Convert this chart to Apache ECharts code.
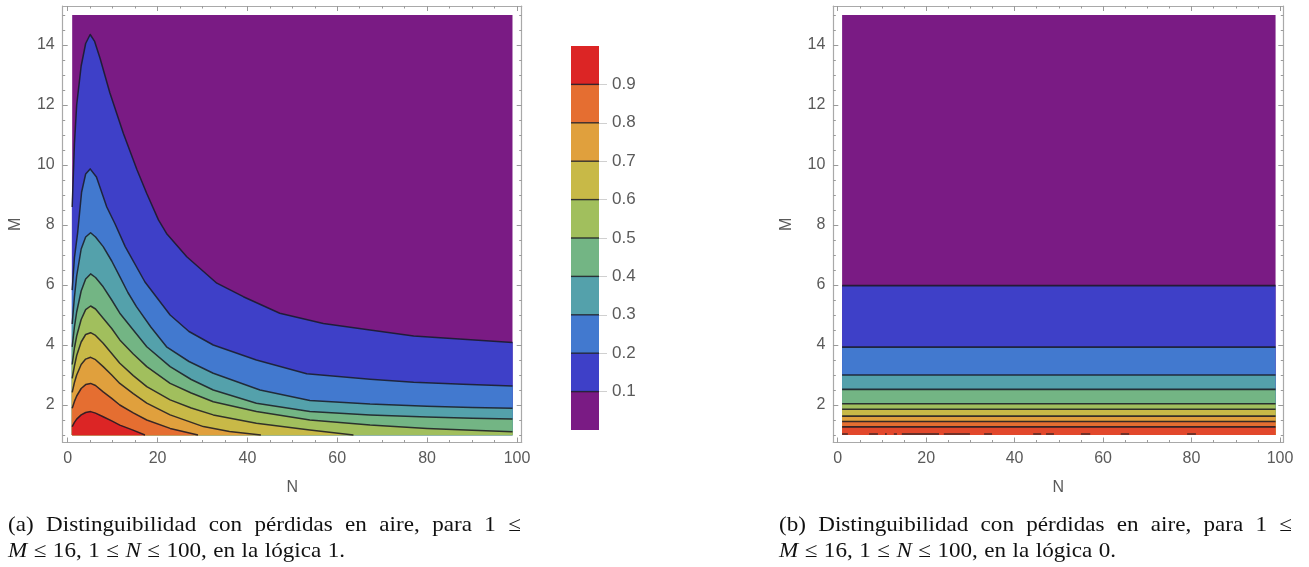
<!DOCTYPE html>
<html>
<head>
<meta charset="utf-8">
<script src="https://cdn.jsdelivr.net/npm/echarts@6/dist/echarts.min.js"></script>
<style>
  html, body { margin: 0; padding: 0; background: #ffffff; }
  #chart { width: 1309px; height: 567px; }
</style>
</head>
<body>
<div id="chart"></div>
<script>
// Contour levels and their band colours (lowest band first)
const levels = [0.1, 0.2, 0.3, 0.4, 0.5, 0.6, 0.7, 0.8, 0.9];
const bandColors = ['#7a1b84', '#3e40c8', '#4279cf', '#54a1ab', '#73b584',
                    '#a1bf5d', '#c8b947', '#e0a03d', '#e56e31', '#dc2525'];
const logic0TopColor = '#e2482c';

// Sampled domain
const nRange = [1, 99];
const mRange = [1, 15];

// Logic 1: iso-lines [N, M] of the distinguishability
const iso01 = [[1, 8.6], [1.5, 10.7], [2, 12.0], [3, 13.3], [4, 14.05], [5, 14.35], [6, 14.12], [7.2, 13.56],
  [9.4, 12.4], [12.4, 11.05], [15.4, 9.85], [17.6, 9.05], [20.2, 8.17], [22, 7.72], [26.5, 6.94],
  [33.2, 6.06], [39.1, 5.61], [47.2, 5.06], [56.9, 4.72], [67.3, 4.5], [77, 4.3], [88, 4.19], [99, 4.08]];
const iso02 = [[1, 5.83], [1.5, 6.9], [2.2, 7.72], [3.1, 9.1], [4, 9.7], [5, 9.87], [6.4, 9.6], [8.7, 8.6],
  [10.5, 8.05], [12.8, 7.28], [17.2, 6.1], [20, 5.55], [22.8, 5.0], [27, 4.45], [32.4, 4.0], [42, 3.5],
  [53.2, 3.04], [67.3, 2.86], [77, 2.76], [88, 2.69], [99, 2.63]];
const iso03 = [[1, 4.7], [1.5, 5.6], [2, 6.3], [3, 7.2], [4, 7.6], [5.1, 7.74], [6.2, 7.6], [7.9, 7.28],
  [9.8, 6.8], [11.6, 6.28], [13.4, 5.75], [15.3, 5.28], [18.5, 4.6], [22, 3.94], [27, 3.45], [32.4, 3.06],
  [42.8, 2.5], [53.9, 2.15], [67.3, 2.03], [80, 1.96], [90, 1.92], [99, 1.89]];
const iso04 = [[1, 3.94], [1.5, 4.6], [2, 5.1], [3, 5.8], [4, 6.2], [5.1, 6.37], [6.2, 6.25], [7.9, 5.94],
  [9.8, 5.5], [11.6, 5.06], [14.6, 4.5], [17.6, 3.94], [22.8, 3.28], [27.5, 2.85], [32.4, 2.5], [42, 2.06],
  [53.9, 1.78], [67.3, 1.67], [80, 1.6], [90, 1.56], [99, 1.53]];
const iso05 = [[1, 3.35], [1.5, 3.9], [2, 4.3], [3, 4.85], [4, 5.18], [5.1, 5.3], [6.2, 5.2], [7.9, 4.89],
  [9.8, 4.55], [11.6, 4.17], [14.6, 3.7], [17.6, 3.28], [22.8, 2.72], [27.5, 2.4], [32.4, 2.11], [42, 1.78],
  [53.9, 1.5], [67.3, 1.33], [80, 1.22], [90, 1.16], [99, 1.11]];
const iso06 = [[1, 2.89], [1.5, 3.3], [2, 3.65], [3, 4.1], [4, 4.35], [5.1, 4.41], [6.2, 4.32], [7.9, 4.06],
  [9.8, 3.72], [11.6, 3.39], [14.6, 2.98], [17.6, 2.61], [22.8, 2.17], [27.5, 1.9], [32.4, 1.67], [42, 1.39],
  [53.9, 1.17], [63.6, 1.0]];
const iso07 = [[1, 2.42], [1.5, 2.75], [2, 3.0], [3, 3.35], [4, 3.53], [5.1, 3.59], [6.2, 3.51], [7.9, 3.28],
  [9.8, 3.0], [11.6, 2.72], [14.6, 2.38], [17.6, 2.06], [22.8, 1.67], [30.2, 1.28], [36, 1.12], [43, 1.0]];
const iso08 = [[1, 1.89], [1.5, 2.12], [2, 2.3], [3, 2.55], [4, 2.68], [5.1, 2.72], [6.2, 2.65], [7.9, 2.44],
  [9.8, 2.22], [11.6, 2.0], [14.6, 1.74], [17.6, 1.5], [22.8, 1.22], [29, 1.0]];
const iso09 = [[1, 1.28], [1.5, 1.42], [2, 1.53], [3, 1.67], [4, 1.75], [5.1, 1.78], [6.2, 1.73], [7.9, 1.61],
  [9.8, 1.47], [11.6, 1.33], [14.4, 1.17], [17.2, 1.0]];
const logic1Isolines = [iso01, iso02, iso03, iso04, iso05, iso06, iso07, iso08, iso09];

// Logic 0: the iso-lines do not depend on N, one M value per level
const logic0LevelM = [5.98, 3.93, 3.0, 2.52, 2.04, 1.86, 1.63, 1.45, 1.27];
// Short contour fragments along the M = 1 edge in logic 0, as [N from, N to]
const logic0EdgeFragments = [[1.0, 2.3], [7.1, 9.1], [10.7, 11.1], [12.7, 13.4], [14.5, 22.9], [24.0, 29.9],
  [33.1, 34.9], [44.2, 46.0], [47.1, 48.9], [55.0, 57.1], [64.0, 65.9], [79.0, 81.0]];

// Tick values
const nTicks = [0, 20, 40, 60, 80, 100];
const nMinorTicks = [5, 10, 15, 25, 30, 35, 45, 50, 55, 65, 70, 75, 85, 90, 95];
const mTicks = [2, 4, 6, 8, 10, 12, 14];
const mMinorTicks = [1, 1.5, 2.5, 3, 3.5, 4.5, 5, 5.5, 6.5, 7, 7.5, 8.5, 9, 9.5, 10.5, 11, 11.5,
  12.5, 13, 13.5, 14.5, 15];
const barTicks = [0.1, 0.2, 0.3, 0.4, 0.5, 0.6, 0.7, 0.8, 0.9];
const barRange = [0, 1];

// Captions, word by word (italic words are math symbols)
const captionA1 = ['(a)', 'Distinguibilidad', 'con', 'pérdidas', 'en', 'aire,', 'para', '1', '≤'];
const captionB1 = ['(b)', 'Distinguibilidad', 'con', 'pérdidas', 'en', 'aire,', 'para', '1', '≤'];
const captionA2 = ['M', '≤', '16,', '1', '≤', 'N', '≤', '100,', 'en', 'la', 'lógica', '1.'];
const captionB2 = ['M', '≤', '16,', '1', '≤', 'N', '≤', '100,', 'en', 'la', 'lógica', '0.'];
const italicWords = ['M', 'N'];

// ---------------------------------------------------------------------
const frameColor = '#a9a9a9';
const tickColor = '#9a9a9a';
const labelColor = '#5a5a5a';
const lineColor = 'rgba(25,25,35,0.85)';
const sansFont = '"Liberation Sans", Arial, sans-serif';
const serifFont = '"Liberation Serif", "DejaVu Serif", serif';

const plotX0 = [-1.11, 101.05];
const plotX1 = [-0.99, 100.75];
const plotY = [0.75, 15.3];

function frameAxes(gridIndex, range, major, minor, posA, posB, name, nameGap) {
  const base = { type: 'value', gridIndex, min: range[0], max: range[1], splitLine: { show: false } };
  const label = { show: true, customValues: major, margin: 8, color: labelColor, fontSize: 16, fontFamily: sansFont };
  const mk = (pos, ticks, len, showLine, withLabel) => Object.assign({}, base, {
    position: pos,
    axisLine: { show: showLine, onZero: false, lineStyle: { color: frameColor, width: 1.2 } },
    axisTick: { show: true, inside: true, length: len, customValues: ticks, lineStyle: { color: tickColor, width: 1 } },
    axisLabel: withLabel ? label : { show: false },
    name: withLabel ? name : '',
    nameLocation: 'middle',
    nameGap: nameGap,
    nameTextStyle: { color: labelColor, fontSize: 16, fontFamily: sansFont }
  });
  return [
    mk(posA, major, 5, true, true),
    mk(posA, minor, 2.5, false, false),
    mk(posB, major, 5, true, false),
    mk(posB, minor, 2.5, false, false)
  ];
}

const xAxes = [].concat(
  frameAxes(0, plotX0, nTicks, nMinorTicks, 'bottom', 'top', 'N', 37),
  frameAxes(1, plotX1, nTicks, nMinorTicks, 'bottom', 'top', 'N', 37),
  [{ type: 'value', gridIndex: 2, min: barRange[0], max: barRange[1], show: false }]
);
const yAxes = [].concat(
  frameAxes(0, plotY, mTicks, mMinorTicks, 'left', 'right', 'M', 39),
  frameAxes(1, plotY, mTicks, mMinorTicks, 'left', 'right', 'M', 39),
  [{
    type: 'value', gridIndex: 2, min: barRange[0], max: barRange[1], position: 'right',
    splitLine: { show: false },
    axisLine: { show: false, onZero: false },
    axisTick: { show: true, inside: false, length: 8, customValues: barTicks, lineStyle: { color: '#d0d0d0', width: 1 } },
    axisLabel: { show: true, customValues: barTicks, margin: 13, color: labelColor, fontSize: 17, fontFamily: sansFont,
      formatter: v => v.toFixed(1) }
  }]
);

// Region above an iso-line closed along the lower edge of the domain
function closedBelow(line) {
  const first = line[0], last = line[line.length - 1];
  return [[first[0], mRange[0]]].concat(line, [[last[0], mRange[0]]]);
}

function rectPoints(api, n0, m0, n1, m1) {
  return [api.coord([n0, m0]), api.coord([n1, m0]), api.coord([n1, m1]), api.coord([n0, m1])];
}

const series = [
  // ---- logic 1 ----
  {
    type: 'custom', xAxisIndex: 0, yAxisIndex: 0, silent: true, z: 1,
    data: [[nRange[0], mRange[0]]],
    renderItem: (params, api) => ({
      type: 'polygon',
      shape: { points: rectPoints(api, nRange[0], mRange[0], nRange[1], mRange[1]) },
      style: { fill: bandColors[0] }
    })
  },
  {
    type: 'custom', xAxisIndex: 0, yAxisIndex: 0, silent: true, z: 2,
    data: logic1Isolines.map(l => l[0]),
    renderItem: (params, api) => ({
      type: 'polygon',
      shape: { points: closedBelow(logic1Isolines[params.dataIndex]).map(p => api.coord(p)) },
      style: { fill: bandColors[params.dataIndex + 1], stroke: bandColors[params.dataIndex + 1], lineWidth: 0.5 }
    })
  },
  {
    type: 'custom', xAxisIndex: 0, yAxisIndex: 0, silent: true, z: 3,
    data: logic1Isolines.map(l => l[0]),
    renderItem: (params, api) => ({
      type: 'polyline',
      shape: { points: logic1Isolines[params.dataIndex].map(p => api.coord(p)) },
      style: { fill: null, stroke: lineColor, lineWidth: 1.5, lineJoin: 'round' }
    })
  },
  // ---- logic 0 ----
  {
    type: 'custom', xAxisIndex: 4, yAxisIndex: 4, silent: true, z: 1,
    data: [[nRange[0], mRange[0]]],
    renderItem: (params, api) => ({
      type: 'polygon',
      shape: { points: rectPoints(api, nRange[0], mRange[0], nRange[1], mRange[1]) },
      style: { fill: bandColors[0] }
    })
  },
  {
    type: 'custom', xAxisIndex: 4, yAxisIndex: 4, silent: true, z: 2,
    data: logic0LevelM.map(m => [nRange[0], m]),
    renderItem: (params, api) => {
      const i = params.dataIndex;
      const fill = i === logic0LevelM.length - 1 ? logic0TopColor : bandColors[i + 1];
      return {
        type: 'polygon',
        shape: { points: rectPoints(api, nRange[0], mRange[0], nRange[1], logic0LevelM[i]) },
        style: { fill }
      };
    }
  },
  {
    type: 'custom', xAxisIndex: 4, yAxisIndex: 4, silent: true, z: 3,
    data: logic0LevelM.map(m => [nRange[0], m]),
    renderItem: (params, api) => {
      const m = logic0LevelM[params.dataIndex];
      return {
        type: 'polyline',
        shape: { points: [api.coord([nRange[0], m]), api.coord([nRange[1], m])] },
        style: { fill: null, stroke: lineColor, lineWidth: 1.6 }
      };
    }
  },
  {
    type: 'custom', xAxisIndex: 4, yAxisIndex: 4, silent: true, z: 3,
    data: logic0EdgeFragments,
    renderItem: (params, api) => {
      const seg = logic0EdgeFragments[params.dataIndex];
      const a = api.coord([seg[0], mRange[0]]);
      const b = api.coord([seg[1], mRange[0]]);
      return {
        type: 'polyline',
        shape: { points: [[a[0], a[1] - 1], [b[0], b[1] - 1]] },
        style: { fill: null, stroke: 'rgba(60,40,40,0.75)', lineWidth: 1.8 }
      };
    }
  },
  // ---- colour bar ----
  {
    type: 'custom', xAxisIndex: 8, yAxisIndex: 8, silent: true, z: 2,
    data: bandColors.map((c, i) => [barRange[0], i === 0 ? barRange[0] : levels[i - 1]]),
    renderItem: (params, api) => {
      const i = params.dataIndex;
      const lo = i === 0 ? barRange[0] : levels[i - 1];
      const hi = i === levels.length ? barRange[1] : levels[i];
      return {
        type: 'polygon',
        shape: { points: rectPoints(api, barRange[0], lo, barRange[1], hi) },
        style: { fill: bandColors[i] }
      };
    }
  },
  {
    type: 'custom', xAxisIndex: 8, yAxisIndex: 8, silent: true, z: 3,
    data: levels.map(v => [barRange[0], v]),
    renderItem: (params, api) => {
      const v = levels[params.dataIndex];
      return {
        type: 'polyline',
        shape: { points: [api.coord([barRange[0], v]), api.coord([barRange[1], v])] },
        style: { fill: null, stroke: lineColor, lineWidth: 1.4 }
      };
    }
  }
];

// Caption lines: words spread evenly over the given width.
// The serif face is widened slightly to approach the book typeface.
const measureCtx = document.createElement('canvas').getContext('2d');
const captionSize = 21;
const captionStretch = 1.1;
function isItalic(w) { return italicWords.indexOf(w) >= 0; }
function spreadLine(words, x0, width, y) {
  const widths = words.map(w => {
    measureCtx.font = (isItalic(w) ? 'italic ' : '') + captionSize + 'px ' + serifFont;
    return measureCtx.measureText(w).width * captionStretch;
  });
  const total = widths.reduce((a, b) => a + b, 0);
  const gap = (width - total) / (words.length - 1);
  const out = [];
  let x = x0;
  words.forEach((w, k) => {
    out.push({
      type: 'text', x: x, y: y, silent: true, scaleX: captionStretch,
      style: {
        text: w, fontSize: captionSize, fontFamily: serifFont,
        fontStyle: isItalic(w) ? 'italic' : 'normal',
        fill: '#111', align: 'left', verticalAlign: 'middle'
      }
    });
    x += widths[k] + gap;
  });
  return out;
}

const graphics = [].concat(
  spreadLine(captionA1, 8, 513, 525),
  spreadLine(captionA2, 8, 337, 551),
  spreadLine(captionB1, 779, 513, 525),
  spreadLine(captionB2, 779, 337, 551)
);

const chart = echarts.init(document.getElementById('chart'), null, { renderer: 'canvas' });
chart.setOption({
  animation: false,
  backgroundColor: '#ffffff',
  grid: [
    { left: 62.7, top: 6, width: 459, height: 436.5 },
    { left: 833.3, top: 6, width: 450, height: 436.5 },
    { left: 571, top: 46, width: 28, height: 384 }
  ],
  xAxis: xAxes,
  yAxis: yAxes,
  series: series,
  graphic: graphics
});
</script>
</body>
</html>
